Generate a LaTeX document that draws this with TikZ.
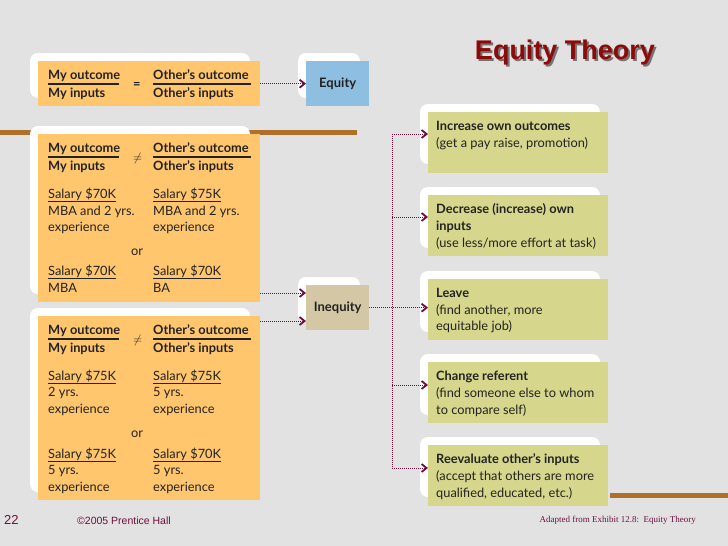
\documentclass[tikz,border=0pt]{standalone}
\usepackage{fontspec}
\setmainfont{Lato}
\newfontfamily\arialf{Liberation Sans}
\newfontfamily\timesf{Liberation Serif}
\usetikzlibrary{arrows.meta}
\definecolor{bg}{HTML}{E2E2E2}
\definecolor{orng}{HTML}{FFC66E}
\definecolor{blu}{HTML}{8EBFE0}
\definecolor{tan}{HTML}{D4C7A5}
\definecolor{grn}{HTML}{D6D78C}
\definecolor{arr}{HTML}{6E0F3F}
\definecolor{ttl}{HTML}{8C0A0A}
\definecolor{band}{HTML}{B0702A}
\definecolor{txt}{HTML}{222222}
\begin{document}
\begin{tikzpicture}[x=1pt,y=-1pt,
  shad/.style={fill=white,rounded corners=8pt},
  bx/.style={anchor=north west,inner sep=0pt},
  t/.style={anchor=base west,inner sep=0pt,font=\fontsize{12.8}{14}\selectfont,text=txt},
  tb/.style={t,font=\fontsize{12.8}{14}\selectfont\bfseries},
  conn/.style={draw=arr,densely dotted,line width=1pt,-{Straight Barb[length=5pt,width=8pt,line width=1.8pt]}},
  trunk/.style={draw=arr,densely dotted,line width=1pt}]
\fill[bg] (0,0) rectangle (728,546);
\useasboundingbox (0,0) rectangle (728,546);
% bands
\fill[band] (0,130) rectangle (357,135);
\fill[band] (610,493) rectangle (728,498);
% title
\node[font=\fontsize{27}{30}\selectfont\arialf\bfseries,text=black!55] (titles) at (567,55) {Equity Theory};
\node[font=\fontsize{27}{30}\selectfont\arialf\bfseries,text=ttl] (title) at (565,53) {Equity Theory};
% shadows
\foreach \a/\b/\c/\d in {30/53/250/98, 30/126/250/294, 30/308/250/492, 298/53/360/98, 298/277/360/322,
  420/104/600/164, 420/187/600/248, 420/271/600/332, 420/354/600/415, 420/437/600/497}
  \fill[shad] (\a,\b) rectangle (\c,\d);
% boxes
\node[bx,fill=orng,minimum width=222pt,minimum height=45pt] (eqf) at (38,61) {};
\node[bx,fill=orng,minimum width=222pt,minimum height=168pt] (in1) at (38,134) {};
\node[bx,fill=orng,minimum width=222pt,minimum height=184pt] (in2) at (38,316) {};
\node[bx,fill=blu,minimum width=63pt,minimum height=45pt] (eq) at (306,61) {};
\node[font=\fontsize{13}{14}\selectfont\bfseries,text=txt] (eqt) at (eq.center) {Equity};
\node[bx,fill=tan,minimum width=63pt,minimum height=45pt] (ineq) at (306,285) {};
\node[font=\fontsize{13}{14}\selectfont\bfseries,text=txt] (ineqt) at (ineq.center) {Inequity};
\foreach \n/\y in {r1/112,r2/195,r3/279,r4/362,r5/445}
  \node[bx,fill=grn,minimum width=180pt,minimum height=61pt] (\n) at (428,\y) {};
% fraction blocks
\newcommand{\frc}[3]{%
  \node[tb] (a#1) at (48,#2) {My outcome};
  \node[tb] (b#1) at (48,#2+18) {My inputs};
  \node[tb] (c#1) at (153,#2) {Other’s outcome};
  \node[tb] (d#1) at (153,#2+18) {Other’s inputs};
  \node[tb] (e#1) at (133,#2+9) {#3};
  \draw[line width=1.3pt,txt] (48,#2+5) -- (119,#2+5);
  \draw[line width=1.3pt,txt] (153,#2+5) -- (251,#2+5);}
\frc{1}{79}{=}
\frc{2}{152}{$\neq$}
\frc{3}{334}{$\neq$}
% examples
\node[t] (s1) at (48,198) {\underline{Salary \$70K}};
\node[t] (s2) at (48,215) {MBA and 2 yrs.};
\node[t] (s3) at (48,231) {experience};
\node[t] (s4) at (153,198) {\underline{Salary \$75K}};
\node[t] (s5) at (153,215) {MBA and 2 yrs.};
\node[t] (s6) at (153,231) {experience};
\node[t] (o1) at (131,255) {or};
\node[t] (s7) at (48,275) {\underline{Salary \$70K}};
\node[t] (s8) at (48,292) {MBA};
\node[t] (s9) at (153,275) {\underline{Salary \$70K}};
\node[t] (s10) at (153,292) {BA};
\node[t] (u1) at (48,380) {\underline{Salary \$75K}};
\node[t] (u2) at (48,396) {2 yrs.};
\node[t] (u3) at (48,413) {experience};
\node[t] (u4) at (153,380) {\underline{Salary \$75K}};
\node[t] (u5) at (153,396) {5 yrs.};
\node[t] (u6) at (153,413) {experience};
\node[t] (o2) at (131,437) {or};
\node[t] (u7) at (48,458) {\underline{Salary \$75K}};
\node[t] (u8) at (48,474) {5 yrs.};
\node[t] (u9) at (48,491) {experience};
\node[t] (u10) at (153,458) {\underline{Salary \$70K}};
\node[t] (u11) at (153,474) {5 yrs.};
\node[t] (u12) at (153,491) {experience};
% right texts
\node[tb] (r1a) at (436,130) {Increase own outcomes};
\node[t] (r1b) at (436,147) {(get a pay raise, promotion)};
\node[tb] (r2a) at (436,213) {Decrease (increase) own};
\node[tb] (r2b) at (436,230) {inputs};
\node[t] (r2c) at (436,247) {(use less/more effort at task)};
\node[tb] (r3a) at (436,297) {Leave};
\node[t] (r3b) at (436,314) {(find another, more};
\node[t] (r3c) at (436,330) {equitable job)};
\node[tb] (r4a) at (436,380) {Change referent};
\node[t] (r4b) at (436,397) {(find someone else to whom};
\node[t] (r4c) at (436,414) {to compare self)};
\node[tb] (r5a) at (436,463) {Reevaluate other’s inputs};
\node[t] (r5b) at (436,480) {(accept that others are more};
\node[t] (r5c) at (436,497) {qualified, educated, etc.)};
% connectors
\draw[conn] (eqf.east) -- (eq.west);
\draw[conn] (in1.east |- 0,293) -- (ineq.west |- 0,293);
\draw[conn] (in2.east |- 0,321) -- (ineq.west |- 0,321);
\coordinate (tt) at (392,134);
\coordinate (tbt) at (392,468);
\draw[trunk] (tt) -- (tbt);
\draw[conn] (ineq.east) -- (r3.west |- ineq.east);
\draw[conn] (tt) -- (r1.west |- tt);
\draw[conn] (392,217) -- (r2.west |- 0,217);
\draw[conn] (392,385) -- (r4.west |- 0,385);
\draw[conn] (tbt) -- (r5.west |- tbt);
% footer
\node[anchor=base west,inner sep=0pt,font=\fontsize{13}{15}\selectfont\arialf,text=arr] (pg) at (4,524) {22};
\node[anchor=base west,inner sep=0pt,font=\fontsize{10.5}{12}\selectfont\arialf,text=arr] (cp) at (77,524) {©2005 Prentice Hall};
\node[anchor=base east,inner sep=0pt,font=\fontsize{9}{11}\selectfont\timesf,text=arr] (ad) at (696,522) {Adapted from Exhibit 12.8:\ \ Equity Theory};
\end{tikzpicture}
\end{document}
